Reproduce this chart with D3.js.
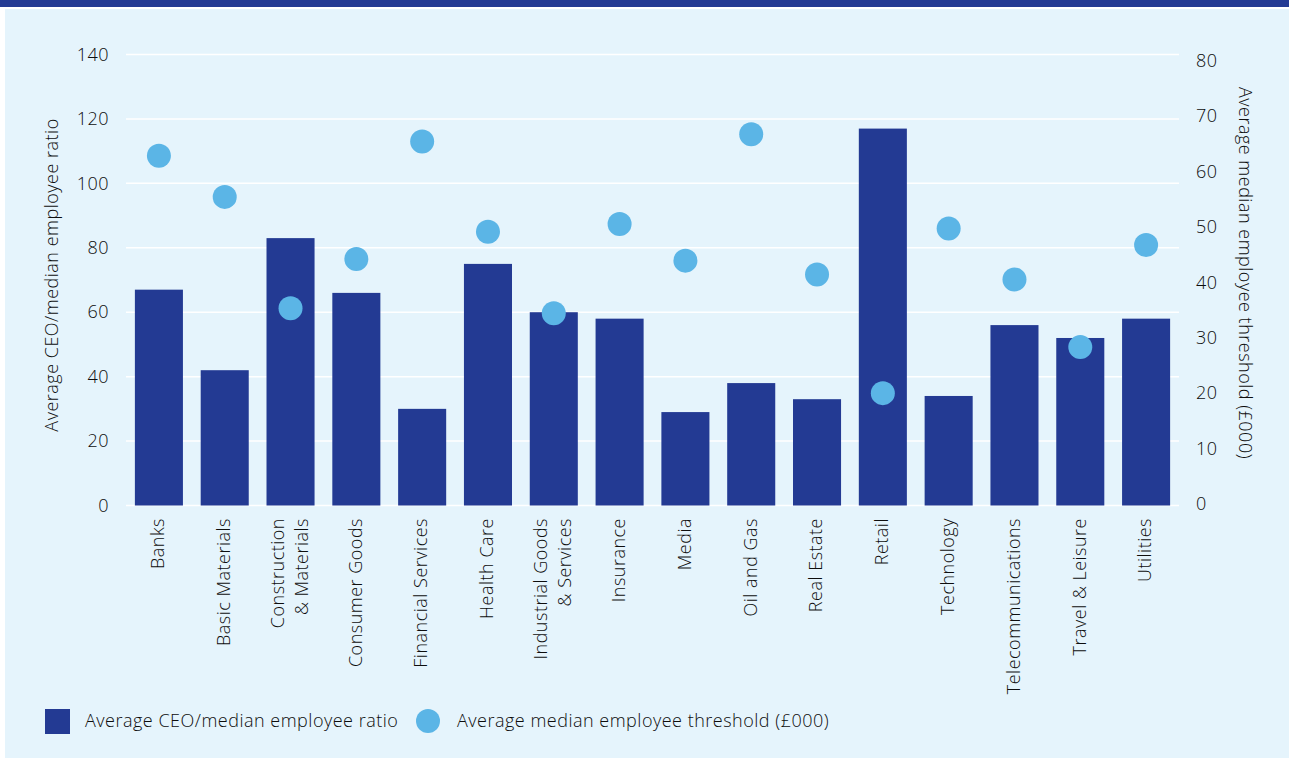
<!DOCTYPE html>
<html>
<head>
<meta charset="utf-8">
<script src="https://cdn.jsdelivr.net/npm/d3@7"></script>
<style>
  html, body { margin: 0; padding: 0; background: #fff; }
  svg { display: block; font-family: "Open Sans", sans-serif; font-weight: 300; letter-spacing: 0.5px; }
</style>
</head>
<body>
<svg id="chart" width="1289" height="758"></svg>
<script>
const sectors = [
    ['Banks'], ['Basic Materials'], ['Construction', '& Materials'], ['Consumer Goods'],
    ['Financial Services'], ['Health Care'], ['Industrial Goods', '& Services'], ['Insurance'],
    ['Media'], ['Oil and Gas'], ['Real Estate'], ['Retail'], ['Technology'],
    ['Telecommunications'], ['Travel & Leisure'], ['Utilities']
];
const ratio = [67, 42, 83, 66, 30, 75, 60, 58, 29, 38, 33, 117, 34, 56, 52, 58];
const threshold = [62.8, 55.4, 35.3, 44.2, 65.4, 49.1, 34.4, 50.5, 43.9, 66.7, 41.4, 20, 49.7, 40.5, 28.3, 46.7];
const leftTicks = [0, 20, 40, 60, 80, 100, 120, 140];
const rightTicks = [0, 10, 20, 30, 40, 50, 60, 70, 80];

const barColor = '#233a93';
const dotColor = '#5bb5e6';
const textColor = '#0d0d0d';
const fontSize = '18px';

const svg = d3.select('#chart');

// background panel + top band
svg.append('rect').attr('x', 5).attr('y', 9).attr('width', 1284).attr('height', 749).attr('fill', '#e5f4fc');
svg.append('rect').attr('x', 0).attr('y', 0).attr('width', 1289).attr('height', 7).attr('fill', barColor);

const x = d3.scaleBand()
    .domain(d3.range(sectors.length))
    .range([126, 1179])
    .paddingInner(0.27)
    .paddingOuter(0.135);
const yLeft = d3.scaleLinear().domain([0, 140]).range([505.5, 54.5]);
const yRight = d3.scaleLinear().domain([0, 80]).range([504, 60.5]);

// gridlines
svg.append('g')
    .selectAll('line')
    .data(leftTicks)
    .join('line')
    .attr('x1', 126)
    .attr('x2', 1179)
    .attr('y1', d => yLeft(d))
    .attr('y2', d => yLeft(d))
    .attr('stroke', '#fff')
    .attr('stroke-width', 1.5);

// left axis
const leftAxis = svg.append('g')
    .attr('transform', 'translate(109,0)')
    .call(d3.axisLeft(yLeft).tickValues(leftTicks).tickSize(0).tickPadding(0));
leftAxis.select('.domain').remove();
leftAxis.selectAll('text')
    .attr('fill', textColor)
    .style('font-size', fontSize)
    .style('font-family', '"Open Sans", sans-serif');

// right axis
const rightAxis = svg.append('g')
    .attr('transform', 'translate(1196,0)')
    .call(d3.axisRight(yRight).tickValues(rightTicks).tickSize(0).tickPadding(0));
rightAxis.select('.domain').remove();
rightAxis.selectAll('text')
    .attr('fill', textColor)
    .style('font-size', fontSize)
    .style('font-family', '"Open Sans", sans-serif');

// bars
svg.append('g')
    .selectAll('rect')
    .data(ratio)
    .join('rect')
    .attr('x', (d, i) => x(i))
    .attr('y', d => yLeft(d))
    .attr('width', x.bandwidth())
    .attr('height', d => yLeft(0) - yLeft(d))
    .attr('fill', barColor);

// dots
svg.append('g')
    .selectAll('circle')
    .data(threshold)
    .join('circle')
    .attr('cx', (d, i) => x(i) + x.bandwidth() / 2)
    .attr('cy', d => yRight(d))
    .attr('r', 12)
    .attr('fill', dotColor);

// x labels (rotated)
const xLabels = svg.append('g')
    .selectAll('text')
    .data(sectors)
    .join('text')
    .attr('transform', (d, i) => `translate(${ x(i) + x.bandwidth() / 2 - 1 },518) rotate(-90)`)
    .attr('text-anchor', 'end')
    .attr('fill', textColor)
    .style('font-size', fontSize);
xLabels.selectAll('tspan')
    .data(d => d.map((line, j) => ({ line, j, n: d.length })))
    .join('tspan')
    .attr('x', 0)
    .attr('y', d => (d.j - (d.n - 1) / 2) * 24)
    .attr('dy', '0.35em')
    .text(d => d.line);

// axis titles
svg.append('text')
    .attr('transform', 'translate(52,275) rotate(-90)')
    .attr('text-anchor', 'middle')
    .attr('dy', '0.35em')
    .attr('fill', textColor)
    .style('font-size', fontSize)
    .text('Average CEO/median employee ratio');
svg.append('text')
    .attr('transform', 'translate(1245,273) rotate(90)')
    .attr('text-anchor', 'middle')
    .attr('dy', '0.35em')
    .attr('fill', textColor)
    .style('font-size', fontSize)
    .text('Average median employee threshold (\u00a3000)');

// legend
const legend = svg.append('g');
legend.append('rect')
    .attr('x', 45).attr('y', 709).attr('width', 25).attr('height', 25)
    .attr('fill', barColor);
legend.append('text')
    .attr('x', 85).attr('y', 721).attr('dy', '0.35em')
    .attr('fill', textColor)
    .style('font-size', fontSize)
    .text('Average CEO/median employee ratio');
legend.append('circle')
    .attr('cx', 428).attr('cy', 721).attr('r', 12)
    .attr('fill', dotColor);
legend.append('text')
    .attr('x', 457).attr('y', 721).attr('dy', '0.35em')
    .attr('fill', textColor)
    .style('font-size', fontSize)
    .text('Average median employee threshold (\u00a3000)');
</script>
</body>
</html>
